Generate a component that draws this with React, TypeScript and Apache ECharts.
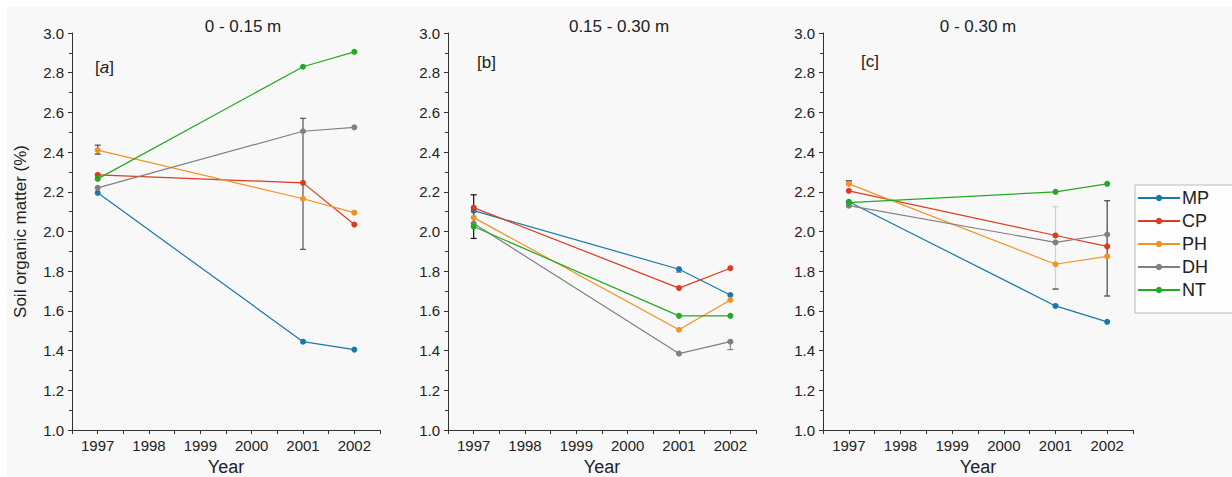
import React, { useEffect, useRef } from "react";
import * as echarts from "echarts";

const years = [1997, 2001, 2002];
const names = ["MP", "CP", "PH", "DH", "NT"];
const colors = ["#1878a8", "#dc3c1e", "#f39222", "#808080", "#22aa22"];

// Panel a: 0 - 0.15 m
const mpA = [2.195, 1.445, 1.405];
const cpA = [2.285, 2.245, 2.035];
const phA = [2.41, 2.165, 2.095];
const dhA = [2.22, 2.505, 2.525];
const ntA = [2.265, 2.83, 2.905];
// Panel b: 0.15 - 0.30 m
const mpB = [2.105, 1.81, 1.68];
const cpB = [2.12, 1.715, 1.815];
const phB = [2.07, 1.505, 1.655];
const dhB = [2.04, 1.385, 1.445];
const ntB = [2.025, 1.575, 1.575];
// Panel c: 0 - 0.30 m
const mpC = [2.15, 1.625, 1.545];
const cpC = [2.205, 1.98, 1.925];
const phC = [2.24, 1.835, 1.875];
const dhC = [2.13, 1.945, 1.985];
const ntC = [2.145, 2.2, 2.24];

// Error bars: [year, low, high]
const errA = [[1997, 2.39, 2.435], [2001, 1.91, 2.57]];
const errColorA = ["#444", "#555"];
const errB = [[1997, 1.965, 2.185], [2001, 1.795, 1.81], [2002, 1.405, 1.445]];
const errColorB = ["#111", "#888", "#888"];
const errC = [[1997, 2.24, 2.255], [2001, 1.71, 2.125], [2002, 1.675, 2.155]];
const errColorC = ["#222", "#d0d0d0", "#444"];
const capColorC = ["#222", "#333", "#444"];

const panelTitles = ["0 - 0.15 m", "0.15 - 0.30 m", "0 - 0.30 m"];
const panelTags = ["[{i|a}]", "[b]", "[c]"];

const panels = [
  [mpA, cpA, phA, dhA, ntA],
  [mpB, cpB, phB, dhB, ntB],
  [mpC, cpC, phC, dhC, ntC],
];
const errs = [errA, errB, errC];
const errColors = [errColorA, errColorB, errColorC];
const capColors = [errColorA, errColorB, capColorC];

const grids = [
  { left: 72, top: 33, width: 308, height: 397 },
  { left: 448, top: 33, width: 308, height: 397 },
  { left: 823, top: 33, width: 310, height: 397 },
];
const titleX = [238, 614, 973];
const tagX = [95, 477, 861];
const tagY = [59, 54, 53];

export default function App() {
  const ref = useRef<HTMLDivElement>(null);
  useEffect(() => {
    if (!ref.current) return;
    const chart = echarts.init(ref.current, null, { renderer: "svg" });
    const font = "Liberation Sans, Arial, sans-serif";
    const series: any[] = [];
    panels.forEach((panel, p) => {
      panel.forEach((vals, k) => {
        series.push({
          type: "line",
          name: names[k],
          xAxisIndex: p,
          yAxisIndex: p,
          data: years.map((y, i) => [y, vals[i]]),
          symbol: "circle",
          symbolSize: 6,
          color: colors[k],
          lineStyle: { width: 1.2, color: colors[k] },
          itemStyle: { color: colors[k] },
          z: 3,
        });
      });
      const ec = errColors[p];
      const cc = capColors[p];
      series.push({
        type: "custom",
        xAxisIndex: p,
        yAxisIndex: p,
        data: errs[p],
        z: 2,
        renderItem: (params: any, api: any) => {
          const x = api.value(0);
          const lo = api.coord([x, api.value(1)]);
          const hi = api.coord([x, api.value(2)]);
          const c = ec[params.dataIndex];
          const c2 = cc[params.dataIndex];
          const w = 3;
          return {
            type: "group",
            children: [
              { type: "line", shape: { x1: lo[0], y1: lo[1], x2: hi[0], y2: hi[1] }, style: { stroke: c, lineWidth: 1.2 } },
              { type: "line", shape: { x1: lo[0] - w, y1: lo[1], x2: lo[0] + w, y2: lo[1] }, style: { stroke: c2, lineWidth: 1.2 } },
              { type: "line", shape: { x1: hi[0] - w, y1: hi[1], x2: hi[0] + w, y2: hi[1] }, style: { stroke: c, lineWidth: 1.2 } },
            ],
          };
        },
      });
    });

    const axisLine = { show: true, lineStyle: { color: "#333", width: 1 } };
    const option: any = {
      animation: false,
      backgroundColor: "#ffffff",
      textStyle: { fontFamily: font },
      title: panelTitles.map((t, p) => ({
        text: t,
        left: titleX[p],
        top: 13,
        textAlign: "center",
        textStyle: { fontSize: 17, fontWeight: "normal", color: "#222", fontFamily: font },
      })),
      graphic: [
        { type: "rect", left: 7, top: 7, shape: { width: 1225, height: 470 }, style: { fill: "#f8f8f8" }, z: -10, silent: true },
        ...panelTags.map((t, p) => ({
          type: "text",
          left: tagX[p],
          top: tagY[p],
          style: {
            text: t,
            fontSize: 17,
            fill: "#222",
            fontFamily: font,
            rich: { i: { fontStyle: "italic", fontSize: 17, fill: "#222", fontFamily: font } },
          },
          z: 10,
        })),
      ],
      legend: {
        data: names,
        orient: "vertical",
        left: 1135,
        top: 185,
        itemWidth: 42,
        itemHeight: 8,
        itemGap: 5,
        padding: [4, 60, 14, 2],
        borderColor: "#bbb",
        borderWidth: 1,
        backgroundColor: "#fdfdfd",
        textStyle: { fontSize: 18, color: "#222", fontFamily: font, padding: [0, 0, 0, -3] },
      },
      grid: grids.map((g) => ({ ...g, containLabel: false, outerBoundsMode: "none" })),
      xAxis: grids.map((g, p) => ({
        type: "value",
        gridIndex: p,
        min: 1996.5,
        max: 2002.5,
        interval: 0.5,
        name: "Year",
        nameLocation: "middle",
        nameGap: 28,
        nameTextStyle: { fontSize: 18, color: "#222", fontFamily: font },
        axisLine,
        axisTick: { show: true, length: 4, lineStyle: { color: "#333" } },
        splitLine: { show: false },
        axisLabel: {
          fontSize: 15,
          color: "#222",
          margin: 8,
          fontFamily: font,
          formatter: (v: number) => (Math.abs(v - Math.round(v)) < 1e-6 && v > 1996.6 && v < 2002.4 ? String(Math.round(v)) : ""),
        },
      })),
      yAxis: grids.map((g, p) => ({
        type: "value",
        gridIndex: p,
        min: 1,
        max: 3,
        interval: 0.2,
        name: p === 0 ? "Soil organic matter (%)" : "",
        nameLocation: "middle",
        nameGap: 43,
        nameTextStyle: { fontSize: 17, color: "#222", fontFamily: font },
        axisLine,
        axisTick: { show: true, length: 4, lineStyle: { color: "#333" } },
        minorTick: { show: true, splitNumber: 2, length: 3, lineStyle: { color: "#333" } },
        splitLine: { show: false },
        axisLabel: { fontSize: 15, color: "#222", margin: 8, fontFamily: font, formatter: (v: number) => v.toFixed(1) },
      })),
      series,
    };
    chart.setOption(option);
    return () => chart.dispose();
  }, []);
  return (
    <div
      ref={ref}
      style={{ position: "absolute", left: 0, top: 0, width: 1232, height: 477 }}
    />
  );
}
